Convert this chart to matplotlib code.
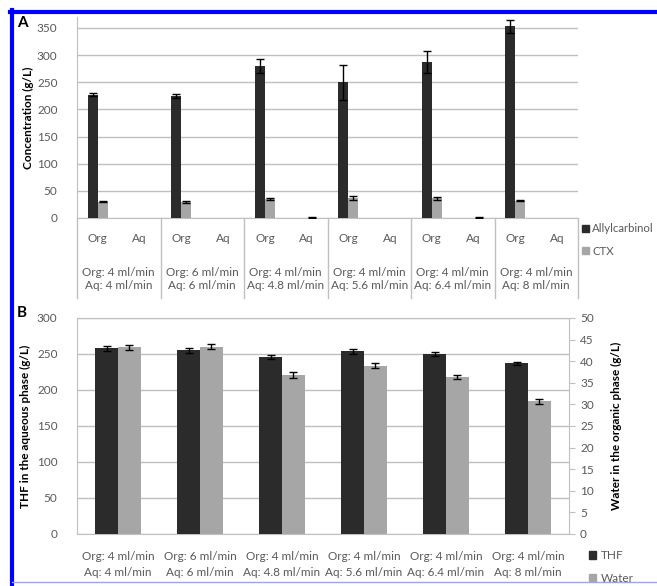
import matplotlib
matplotlib.use('Agg')
import matplotlib.pyplot as plt
import numpy as np
from matplotlib.lines import Line2D
from matplotlib.patches import Patch

plt.rcParams['font.family'] = ['Lato', 'DejaVu Sans']

# Flow conditions (shared by both panels)
org_flow = ["Org: 4 ml/min", "Org: 6 ml/min", "Org: 4 ml/min",
            "Org: 4 ml/min", "Org: 4 ml/min", "Org: 4 ml/min"]
aq_flow = ["Aq: 4 ml/min", "Aq: 6 ml/min", "Aq: 4.8 ml/min",
           "Aq: 5.6 ml/min", "Aq: 6.4 ml/min", "Aq: 8 ml/min"]
phases = ["Org", "Aq"]

# Panel A: concentration (g/L) in each phase
allyl_org = [227, 225, 280, 250, 287, 353]
allyl_org_err = [3, 4, 13, 32, 20, 12]
allyl_aq = [0, 0, 0, 0, 0, 0]
allyl_aq_err = [0, 0, 0, 0, 0, 0]
ctx_org = [30, 30, 35, 37, 36, 32]
ctx_org_err = [1, 1.5, 1.5, 3.5, 2, 1]
ctx_aq = [0, 0, 0.5, 0, 0.5, 0]
ctx_aq_err = [0, 0, 0.5, 0, 0.5, 0]

# Panel B: THF in aqueous phase (left axis), water in organic phase (right axis)
thf = [258, 255, 246, 254, 250, 237]
thf_err = [3.5, 3.5, 2.5, 3.5, 2.5, 2.5]
water = [43.2, 43.4, 36.8, 39.0, 36.3, 30.7]
water_err = [0.6, 0.6, 0.6, 0.6, 0.5, 0.5]

dark = '#2b2b2b'
light = '#a6a6a6'
grid = '#c0c0c0'
txt = '#595959'
fs = 8.5

W, H = 657, 586
fig = plt.figure(figsize=(W / 100, H / 100), dpi=100)


def box(l, t, r, b):
    return [l / W, 1 - b / H, (r - l) / W, (b - t) / H]


# ---------- panel A ----------
axA = fig.add_axes(box(77, 17, 578, 218))
x = np.arange(12) + 0.5
bw = 0.24
allyl = np.ravel(np.column_stack([allyl_org, allyl_aq]))
allyl_e = np.ravel(np.column_stack([allyl_org_err, allyl_aq_err]))
ctx = np.ravel(np.column_stack([ctx_org, ctx_aq]))
ctx_e = np.ravel(np.column_stack([ctx_org_err, ctx_aq_err]))

axA.bar(x - bw / 2, allyl, bw, color=dark, zorder=3)
axA.bar(x + bw / 2, ctx, bw, color=light, zorder=3)
m = allyl_e > 0
axA.errorbar((x - bw / 2)[m], allyl[m], yerr=allyl_e[m], fmt='none',
             ecolor='black', elinewidth=1, capsize=3, capthick=1, zorder=4)
m = ctx_e > 0
axA.errorbar((x + bw / 2)[m], ctx[m], yerr=ctx_e[m], fmt='none',
             ecolor='black', elinewidth=1, capsize=3, capthick=1, zorder=4)

axA.set_xlim(0, 12)
axA.set_ylim(0, 370)
axA.set_yticks(np.arange(0, 351, 50))
axA.set_xticks([])
axA.yaxis.grid(True, color=grid, lw=1, zorder=0)
axA.tick_params(axis='y', length=0, pad=14, labelsize=fs, labelcolor=txt)
for s in ['top', 'right']:
    axA.spines[s].set_visible(False)
for s in ['left', 'bottom']:
    axA.spines[s].set_color(grid)
axA.set_ylabel('Concentration (g/L)', fontsize=fs, fontweight='bold', labelpad=2)

trA = axA.get_xaxis_transform()
for k in range(12):
    axA.text(x[k], -0.104, phases[k % 2], transform=trA, ha='center', va='center',
             fontsize=fs, color=txt)
for i in range(6):
    axA.text(2 * i + 1, -0.269, org_flow[i], transform=trA, ha='center', va='center',
             fontsize=fs, color=txt)
    axA.text(2 * i + 1, -0.338, aq_flow[i], transform=trA, ha='center', va='center',
             fontsize=fs, color=txt)
for i in range(7):
    axA.plot([2 * i, 2 * i], [0, -0.4], transform=trA, color=grid, lw=1, clip_on=False)

fig.legend(handles=[Patch(color=dark), Patch(color=light)], labels=['Allylcarbinol', 'CTX'],
           loc='center left', bbox_to_anchor=(582 / W, 1 - 240 / H), frameon=False,
           handlelength=0.6, handleheight=0.6, handletextpad=0.3, labelspacing=1.0,
           borderpad=0, borderaxespad=0, fontsize=8.2, labelcolor=txt)

# ---------- panel B ----------
axB = fig.add_axes(box(77, 318, 569, 534))
xb = np.arange(6) + 0.5
bwB = 0.28
axB.bar(xb - bwB / 2, thf, bwB, color=dark, zorder=3)
axB.errorbar(xb - bwB / 2, thf, yerr=thf_err, fmt='none', ecolor='black',
             elinewidth=1, capsize=3, capthick=1, zorder=4)
axB.set_xlim(0, 6)
axB.set_ylim(0, 300)
axB.set_yticks(np.arange(0, 301, 50))
axB.set_xticks([])
axB.yaxis.grid(True, color=grid, lw=1, zorder=0)
axB.tick_params(axis='y', length=0, pad=14, labelsize=fs, labelcolor=txt)
for s in axB.spines.values():
    s.set_color(grid)
axB.spines['right'].set_visible(False)
axB.set_ylabel('THF in the aqueous phase (g/L)', fontsize=fs, fontweight='bold', labelpad=4)

axB2 = axB.twinx()
axB2.bar(xb + bwB / 2, water, bwB, color=light, zorder=3)
axB2.errorbar(xb + bwB / 2, water, yerr=water_err, fmt='none', ecolor='black',
              elinewidth=1, capsize=3, capthick=1, zorder=4)
axB2.set_ylim(0, 50)
axB2.set_yticks(np.arange(0, 51, 5))
axB2.tick_params(axis='y', direction='out', length=4, color=grid, pad=4,
                 labelsize=fs, labelcolor=txt)
for s in ['top', 'left', 'bottom']:
    axB2.spines[s].set_visible(False)
axB2.spines['right'].set_color(grid)
axB2.set_ylabel('Water in the organic phase (g/L)', fontsize=fs, fontweight='bold', labelpad=12)

trB = axB.get_xaxis_transform()
for i in range(6):
    axB.text(xb[i], -0.106, org_flow[i], transform=trB, ha='center', va='center',
             fontsize=fs, color=txt)
    axB.text(xb[i], -0.176, aq_flow[i], transform=trB, ha='center', va='center',
             fontsize=fs, color=txt)

fig.legend(handles=[Patch(color=dark), Patch(color=light)], labels=['THF', 'Water'],
           loc='center left', bbox_to_anchor=(589 / W, 1 - 567 / H), frameon=False,
           handlelength=0.6, handleheight=0.6, handletextpad=0.4, labelspacing=1.0,
           borderpad=0, borderaxespad=0, fontsize=fs, labelcolor=txt)

# panel letters
fig.text(22 / W, 1 - 23 / H, 'A', fontsize=11, fontweight='bold', ha='center', va='center')
fig.text(22 / W, 1 - 313 / H, 'B', fontsize=11, fontweight='bold', ha='center', va='center')

# blue frame
fig.add_artist(Line2D([10 / W, 1], [1 - 12 / H, 1 - 12 / H], transform=fig.transFigure,
                      color='#0000ff', lw=3))
fig.add_artist(Line2D([12 / W, 12 / W], [1 - 10 / H, 1 - 584 / H], transform=fig.transFigure,
                      color='#0000ff', lw=3))
fig.add_artist(Line2D([12 / W, 1], [1 - 582 / H, 1 - 582 / H], transform=fig.transFigure,
                      color='#a0a0ff', lw=1))

fig.savefig('out.png', dpi=100)
